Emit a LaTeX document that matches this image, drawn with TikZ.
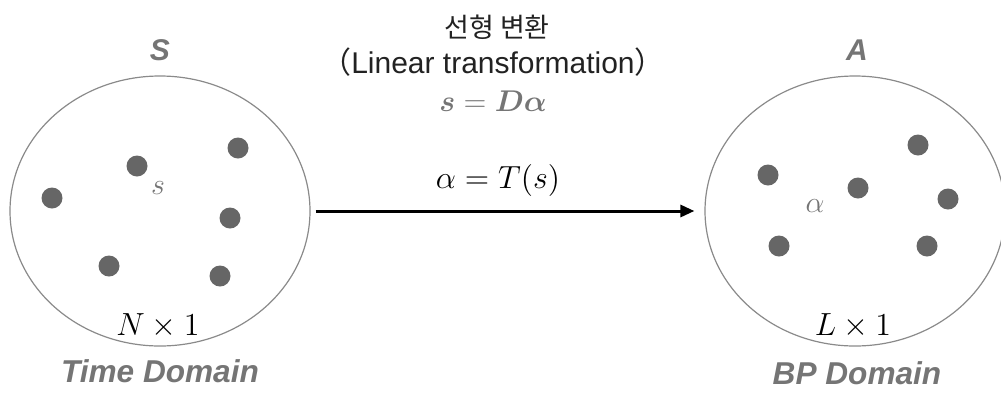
\RequirePackage{fix-cm}
\documentclass[tikz,border=0pt]{standalone}
\usepackage{amsmath}
\usepackage{bm}
\usepackage{fontspec}
\newfontfamily\sansfont{Liberation Sans}
\newfontfamily\krfont{Noto Sans CJK KR}
\usetikzlibrary{arrows.meta,shapes.geometric}

\definecolor{dotgray}{HTML}{666666}
\definecolor{labelgray}{HTML}{757575}
\definecolor{rimgray}{HTML}{8A8A8A}
\definecolor{textdark}{HTML}{222222}

\begin{document}
\begin{tikzpicture}[x=0.5pt, y=-0.5pt,
  setblob/.style={ellipse, draw=rimgray, line width=0.6pt,
    minimum width=150pt, minimum height=135pt, inner sep=0pt},
  elem/.style={circle, fill=dotgray, minimum size=10.5pt, inner sep=0pt},
  setname/.style={text=labelgray, font=\sansfont\bfseries\itshape\fontsize{15}{18}\selectfont},
  domname/.style={text=labelgray, font=\sansfont\bfseries\itshape\fontsize{15.8}{19}\selectfont},
  mathlbl/.style={text=black, font=\fontsize{16}{19}\selectfont},
  maparrow/.style={-{Triangle[length=7pt,width=6pt]}, line width=1.5pt,
    shorten <=2.5pt, shorten >=5pt}]
  \useasboundingbox (0,0) rectangle (1001,392);

  % 두 집합
  \node[setblob] (S) at (160,211) {};
  \node[setblob] (A) at (855,211) {};

  % 집합 이름
  \node[setname] (Sname) at (160,50) {S};
  \node[setname] (Aname) at (857,50) {A};

  % 원소 (점)
  \foreach \px/\py [count=\i] in {238/148, 137/166, 52/198, 230/218, 109/266, 220/276}
    \node[elem] (s\i) at (\px,\py) {};
  \foreach \px/\py [count=\i] in {918/145, 768/175, 858/188, 948/199, 779/246, 927/246}
    \node[elem] (a\i) at (\px,\py) {};

  \node[text=labelgray, font=\fontsize{15}{17}\selectfont] (slbl) at (158,188) {$s$};
  \node[text=labelgray, font=\fontsize{15}{17}\selectfont] (albl) at (815,206) {$\alpha$};

  % 차원
  \node[mathlbl] (Ndim) at (158,326) {$N\times 1$};
  \node[mathlbl] (Ldim) at (853,326) {$L\times 1$};

  % 도메인 이름
  \node[domname] (tdom) at (160,371) {Time Domain};
  \node[domname] (bdom) at (857,373) {BP Domain};

  % 변환 화살표
  \draw[maparrow] (S) -- (A);
  \node[mathlbl] (Tmap) at (498,180) {$\alpha=T(s)$};

  % 위쪽 설명
  \node[text=textdark, font=\krfont\fontsize{13.5}{16}\selectfont] (kor) at (497,27) {선형 변환};
  \node[text=textdark, font=\sansfont\fontsize{15}{18}\selectfont] (eng) at (493,62)
    {{\krfont （}Linear transformation{\krfont ）}};
  \node[text=labelgray, font=\fontsize{15}{18}\selectfont] (Dmap) at (493,101) {$\bm{s}=\bm{D\alpha}$};
\end{tikzpicture}
\end{document}
